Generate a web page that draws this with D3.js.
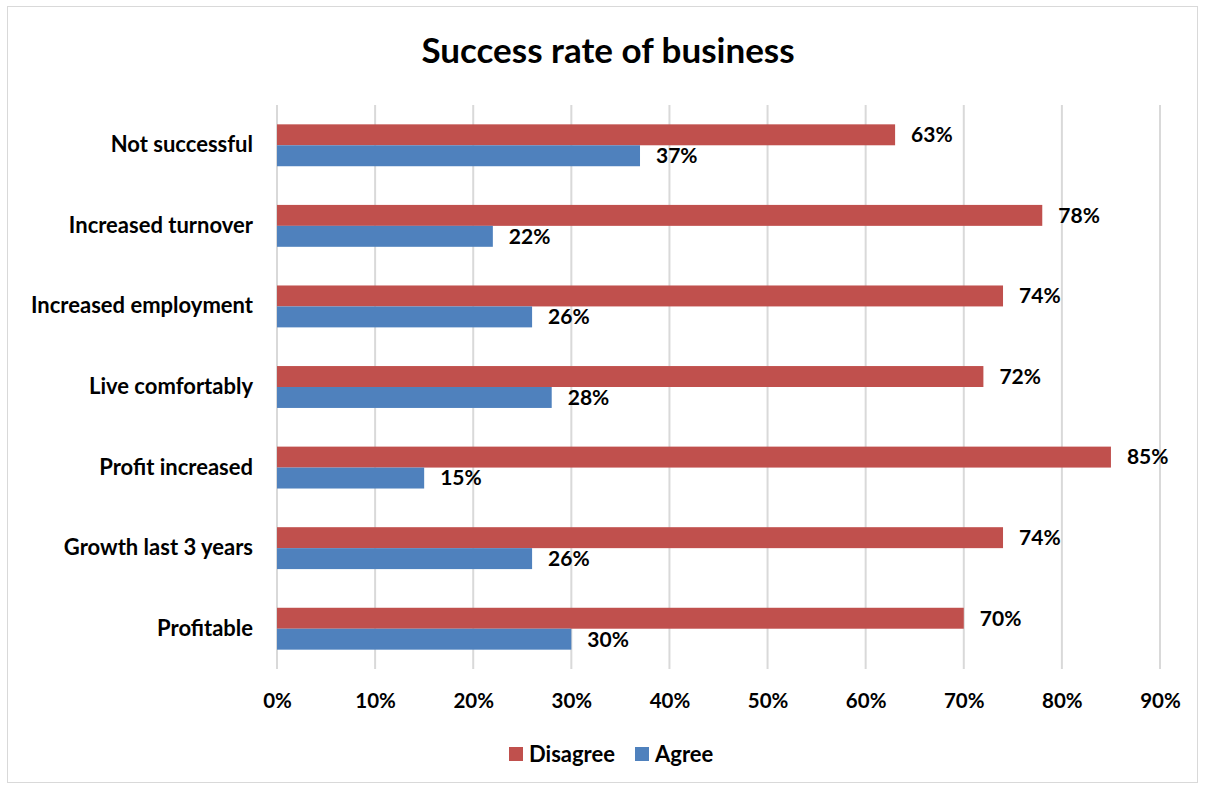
<!DOCTYPE html>
<html>
<head>
<meta charset="utf-8">
<script src="https://cdn.jsdelivr.net/npm/d3@7"></script>
<style>
  html, body { margin: 0; padding: 0; background: #fff; }
  svg text { font-family: Lato, "Open Sans", sans-serif; font-weight: bold; fill: #000; }
</style>
</head>
<body>
<svg id="chart" width="1205" height="787"></svg>
<script>
// Survey answers per business outcome (percent)
const categories = ["Not successful", "Increased turnover", "Increased employment",
  "Live comfortably", "Profit increased", "Growth last 3 years", "Profitable"];
const disagree = [63, 78, 74, 72, 85, 74, 70];
const agree = [37, 22, 26, 28, 15, 26, 30];
const seriesNames = ["Disagree", "Agree"];
const seriesColors = ["#C0504D", "#4F81BD"];
const xTicks = [0, 10, 20, 30, 40, 50, 60, 70, 80, 90];

const svg = d3.select("#chart");
const plot = { left: 277, right: 1160, top: 105, bottom: 669 };

// outer frame
svg.append("rect").attr("x", 7.5).attr("y", 6.5).attr("width", 1190).attr("height", 776)
  .attr("fill", "#fff").attr("stroke", "#d9d9d9").attr("stroke-width", 1);

svg.append("text").attr("x", 608).attr("y", 63).attr("text-anchor", "middle")
  .style("font-size", "35px").text("Success rate of business");

const x = d3.scaleLinear().domain([0, 90]).range([plot.left, plot.right]);
const y = d3.scaleBand().domain(categories).range([plot.top, plot.bottom]).paddingInner(0.48).paddingOuter(0.24);
const ySub = d3.scaleBand().domain(seriesNames).range([0, y.bandwidth()]);

// vertical gridlines
svg.append("g").selectAll("line").data(xTicks).join("line")
  .attr("x1", d => x(d)).attr("x2", d => x(d))
  .attr("y1", plot.top).attr("y2", plot.bottom)
  .attr("stroke", "#d9d9d9").attr("stroke-width", 2);

// x axis labels
const xAxis = d3.axisBottom(x).tickValues(xTicks).tickFormat(d => d + "%").tickSize(0).tickPadding(0);
const gx = svg.append("g").attr("transform", `translate(0,${plot.bottom})`).call(xAxis);
gx.select(".domain").remove();
gx.selectAll("text").attr("dy", null).attr("y", 39).style("font-size", "20.5px")
  .style("font-family", "Lato, sans-serif").style("font-weight", "bold");

// category labels
const yAxis = d3.axisLeft(y).tickSize(0).tickPadding(24);
const gy = svg.append("g").attr("transform", `translate(${plot.left},0)`).call(yAxis);
gy.select(".domain").remove();
gy.selectAll("text").style("font-size", "22px")
  .style("font-family", "Lato, sans-serif").style("font-weight", "bold");

const rows = categories.map((c, i) => ({ c, vals: [disagree[i], agree[i]] }));

const groups = svg.append("g").selectAll("g").data(rows).join("g")
  .attr("transform", d => `translate(0,${y(d.c)})`);

groups.selectAll("rect").data(d => d.vals.map((v, j) => ({ v, s: seriesNames[j], j })))
  .join("rect")
  .attr("x", x(0)).attr("y", d => ySub(d.s))
  .attr("width", d => x(d.v) - x(0)).attr("height", ySub.bandwidth())
  .attr("fill", d => seriesColors[d.j]);

groups.selectAll("text.val").data(d => d.vals.map((v, j) => ({ v, s: seriesNames[j], j })))
  .join("text").attr("class", "val")
  .attr("x", d => x(d.v) + 16).attr("y", d => ySub(d.s) + ySub.bandwidth() / 2)
  .attr("dy", "0.35em").style("font-size", "21px").text(d => d.v + "%");

// legend
const legend = svg.append("g").attr("transform", "translate(509,754)");
const legX = [0, 126];
seriesNames.forEach((n, i) => {
  const g = legend.append("g").attr("transform", `translate(${legX[i]},0)`);
  g.append("rect").attr("x", 0).attr("y", -7).attr("width", 14).attr("height", 14).attr("fill", seriesColors[i]);
  g.append("text").attr("x", 20).attr("y", 0).attr("dy", "0.35em").style("font-size", "22px").text(n);
});
</script>
</body>
</html>
